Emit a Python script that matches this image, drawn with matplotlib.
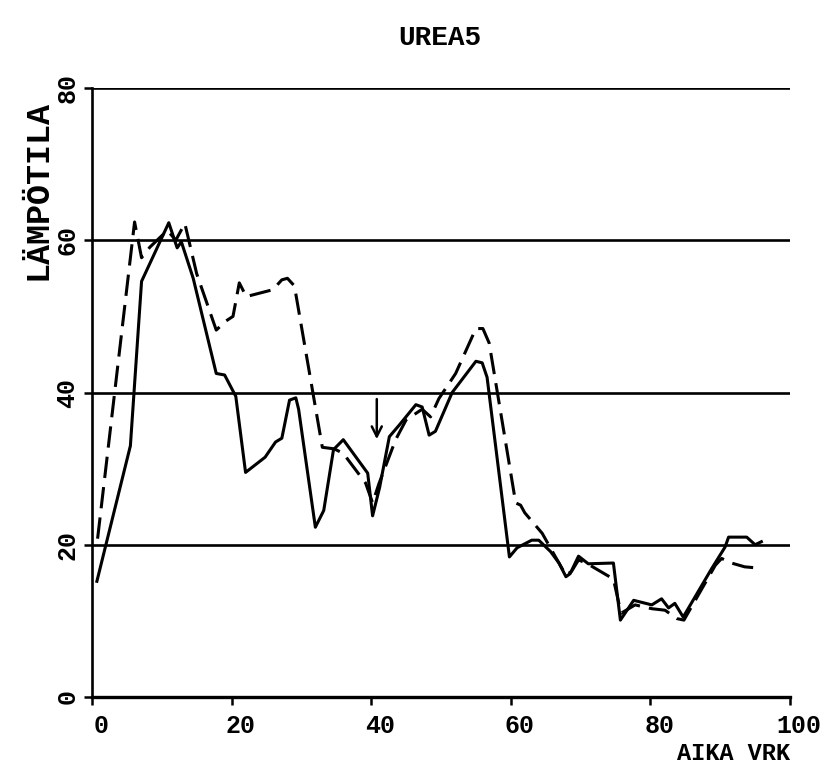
import numpy as np
import matplotlib
matplotlib.use('Agg')
import matplotlib.pyplot as plt
import matplotlib.transforms as mtrans

# values
solid_x = [0.7, 5.5, 7.1, 11.0, 12.2, 12.8, 14.5, 17.8, 19.0, 20.6, 22.0, 24.8, 26.3, 27.2,
           28.3, 29.2, 29.6, 32.0, 33.2, 34.6, 36.0, 39.5, 40.2, 41.2, 42.6, 44.0, 46.4,
           47.3, 48.3, 49.2, 51.6, 55.0, 55.9, 56.6, 59.8, 60.9, 63.0, 64.0, 65.7, 66.9,
           67.9, 68.5, 69.7, 71.1, 74.7, 75.7, 77.6, 80.2, 81.6, 82.6, 83.5, 84.7, 88.8,
           90.7, 91.2, 93.8, 95.0, 95.9]
solid_y = [15.2, 33.0, 54.6, 62.3, 59.0, 59.8, 55.0, 42.5, 42.3, 39.5, 29.5, 31.5, 33.5, 34.0,
           39.0, 39.3, 37.8, 22.3, 24.5, 32.5, 33.8, 29.4, 23.8, 27.5, 34.2, 35.7, 38.4,
           38.1, 34.4, 34.9, 40.0, 44.1, 43.9, 42.0, 18.4, 19.6, 20.6, 20.6, 19.1, 17.6,
           15.8, 16.2, 18.5, 17.5, 17.6, 10.1, 12.7, 12.1, 12.9, 11.7, 12.3, 10.5, 16.9,
           19.7, 21.0, 21.0, 20.0, 20.4]

dash_x = [0.8, 6.1, 7.1, 8.3, 10.8, 12.0, 13.3, 15.0, 17.8, 19.2, 20.2, 21.1, 22.1, 25.9,
          27.2, 28.0, 29.0, 33.0, 34.7, 36.0, 39.2, 40.2, 41.1, 43.5, 45.0, 47.3, 48.5,
          49.7, 52.1, 55.0, 56.0, 56.9, 60.7, 61.4, 62.0, 64.5, 66.4, 67.9, 68.7, 69.7,
          70.8, 74.7, 75.8, 77.8, 80.2, 82.1, 83.8, 84.8, 89.3, 90.2, 91.6, 93.5, 95.9]
dash_y = [20.8, 62.4, 57.7, 59.1, 61.3, 60.0, 62.2, 55.6, 48.2, 49.4, 50.0, 54.4, 52.6, 53.5,
          54.8, 55.0, 54.0, 32.8, 32.6, 32.0, 28.1, 25.5, 28.0, 33.8, 36.4, 37.8, 36.8,
          39.2, 42.5, 48.4, 48.4, 46.5, 25.5, 25.2, 24.2, 21.5, 18.4, 16.0, 16.5, 18.0,
          17.6, 15.5, 11.0, 12.1, 11.6, 11.4, 10.3, 10.1, 17.3, 18.2, 17.6, 17.1, 16.9]

grid_levels = [20, 40, 60, 80]
x_ticks = [0, 20, 40, 60, 80, 100]
y_ticks = [0, 20, 40, 60, 80]

font = 'Liberation Mono'

fig = plt.figure(figsize=(8.29, 7.73), dpi=100)
ax = fig.add_axes([92 / 829, 76 / 773, 698 / 829, 609 / 773])

for lev in grid_levels:
    ax.axhline(lev, color='k', lw=1.9, zorder=1)

ax.plot(solid_x, solid_y, color='k', lw=2.2, zorder=3)
ax.plot(dash_x, dash_y, color='k', lw=2.2, dashes=(7, 3), zorder=3)

# arrow at day 40
ax.annotate('', xy=(40.8, 33.5), xytext=(40.8, 39.5),
            arrowprops=dict(arrowstyle='->', color='k', lw=1.8, mutation_scale=18))

ax.set_xlim(0, 100)
ax.set_ylim(0, 80)
ax.spines['top'].set_visible(False)
ax.spines['right'].set_visible(False)
ax.spines['left'].set_linewidth(1.9)
ax.spines['bottom'].set_linewidth(2.4)

ax.set_xticks(x_ticks)
ax.set_yticks(y_ticks)
ax.tick_params(axis='both', direction='out', length=6, width=1.8)
ax.tick_params(axis='x', pad=6)
ax.tick_params(axis='y', pad=3)

shift = mtrans.ScaledTranslation(0.09, 0, fig.dpi_scale_trans)
for lab in ax.get_xticklabels():
    lab.set_fontfamily(font)
    lab.set_fontweight('bold')
    lab.set_fontsize(18)
    lab.set_transform(lab.get_transform() + shift)
for lab in ax.get_yticklabels():
    lab.set_fontfamily(font)
    lab.set_fontweight('bold')
    lab.set_fontsize(18)
    lab.set_rotation(90)
    lab.set_va('center')

fig.text(0.53, 0.951, 'UREA5', family=font, weight='bold', fontsize=20, ha='center', va='center')
fig.text(0.046, 0.754, 'LÄMPÖTILA', family=font, weight='bold', fontsize=24,
         rotation=90, ha='center', va='center')
fig.text(790 / 829, 0.025, 'AIKA VRK', family=font, weight='bold', fontsize=17,
         ha='right', va='center')

fig.savefig('out.png', dpi=100)
